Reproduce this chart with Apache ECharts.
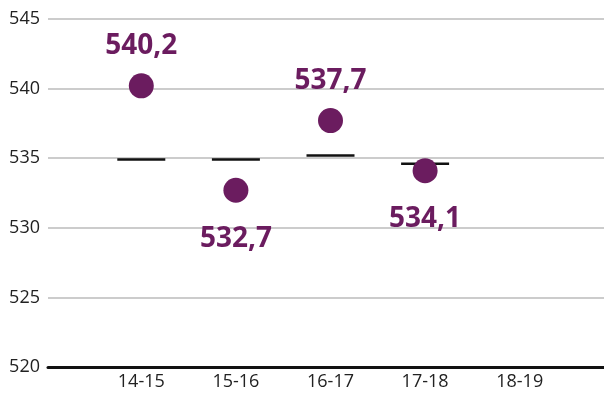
<!DOCTYPE html>
<html>
<head>
<meta charset="utf-8">
<script src="https://cdn.jsdelivr.net/npm/echarts@6/dist/echarts.min.js"></script>
<style>
  html, body { margin: 0; padding: 0; background: #fff; }
  #main { width: 604px; height: 396px; }
</style>
</head>
<body>
<div id="main"></div>
<script>
const years = ['14-15', '15-16', '16-17', '17-18', '18-19'];
const scores = [540.2, 532.7, 537.7, 534.1, null];
const averages = [534.9, 534.9, 535.2, 534.6, null];
const labelSide = ['top', 'bottom', 'top', 'bottom', 'top'];
const yTicks = { min: 520, max: 545, step: 5 };

const purple = '#6b1c5f';
const fontFamily = '"Open Sans", "Noto Sans", sans-serif';

const chart = echarts.init(document.getElementById('main'));

const fmt = v => v.toFixed(1).replace('.', ',');

const option = {
  backgroundColor: '#fff',
  animation: false,
  grid: [
    { left: 48, right: 0, top: 19, bottom: 29 },
    { left: 94, right: 37, top: 19, bottom: 29 }
  ],
  xAxis: [
    {
      gridIndex: 0, type: 'category', data: [''],
      axisLine: { show: true, lineStyle: { color: '#111', width: 3 } },
      axisTick: { show: false }, axisLabel: { show: false }
    },
    {
      gridIndex: 1, type: 'category', data: years,
      axisLine: { show: false }, axisTick: { show: false },
      axisLabel: { color: '#222', fontSize: 18, fontFamily: fontFamily, margin: 6 }
    }
  ],
  yAxis: [
    {
      gridIndex: 0, type: 'value', min: yTicks.min, max: yTicks.max, interval: yTicks.step,
      axisLine: { show: false }, axisTick: { show: false },
      axisLabel: { color: '#222', fontSize: 18, fontFamily: fontFamily, margin: 8 },
      splitLine: { lineStyle: { color: '#cccccc', width: 2 } }
    },
    {
      gridIndex: 1, type: 'value', min: yTicks.min, max: yTicks.max, interval: yTicks.step,
      show: false
    }
  ],
  series: [
    {
      // average dashes
      type: 'scatter', xAxisIndex: 1, yAxisIndex: 1,
      symbol: 'rect', symbolSize: [48, 2.5],
      itemStyle: { color: '#111', opacity: 1 },
      data: averages,
      z: 2
    },
    {
      type: 'scatter', xAxisIndex: 1, yAxisIndex: 1,
      symbol: 'circle', symbolSize: 25,
      itemStyle: { color: purple, opacity: 1 },
      data: scores.map((v, i) => ({
        value: v,
        label: {
          show: v != null, position: labelSide[i],
          distance: labelSide[i] === 'top' ? 13 : 22,
          formatter: p => fmt(p.value),
          color: purple, fontSize: 28, fontWeight: 'bold', fontFamily: fontFamily
        }
      })),
      z: 3
    }
  ]
};

chart.setOption(option);
</script>
</body>
</html>
